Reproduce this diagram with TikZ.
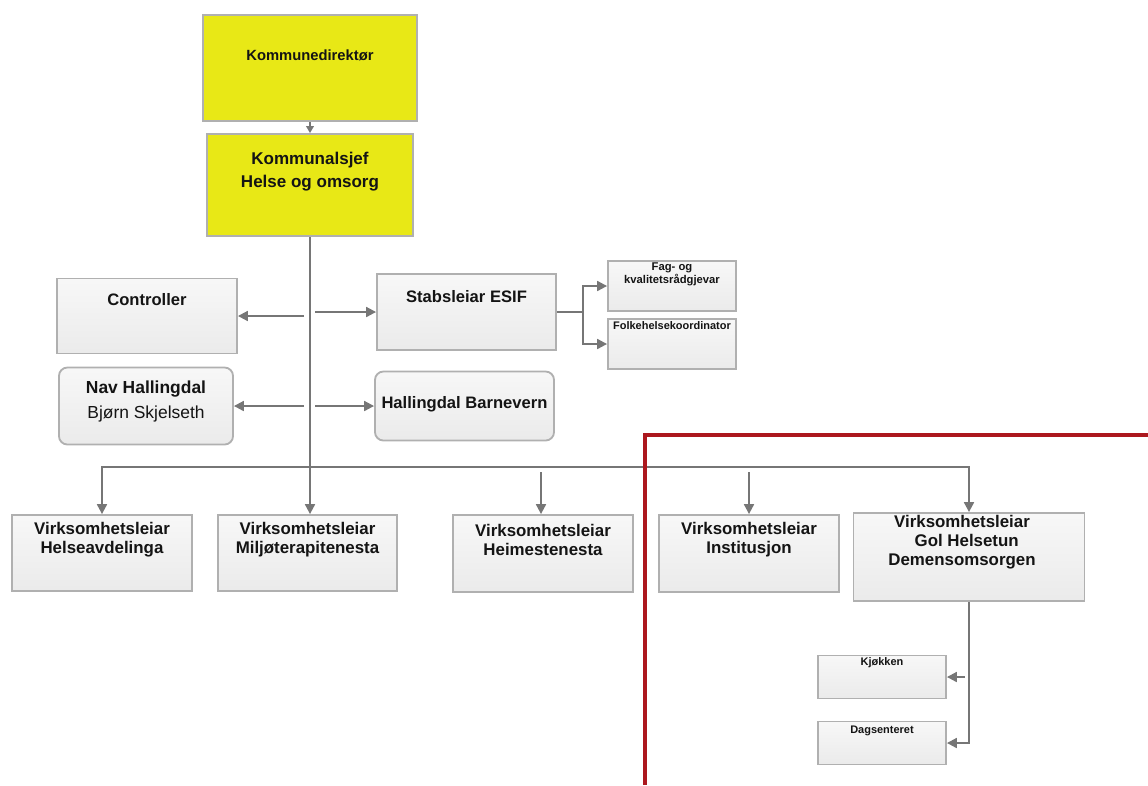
\documentclass[tikz,border=0pt]{standalone}
\usepackage{fontspec}
\setmainfont{Liberation Sans}
\usetikzlibrary{arrows.meta, positioning, calc}
\definecolor{boxline}{RGB}{176,176,176}
\definecolor{linegray}{RGB}{118,118,118}
\definecolor{chiefyellow}{RGB}{232,232,22}
\definecolor{framered}{RGB}{172,24,30}
\tikzset{
  unit/.style={
    rectangle, draw=boxline, line width=1.3pt,
    top color=gray!6, bottom color=gray!16, inner sep=0pt
  },
  roundunit/.style={unit, rounded corners=6pt},
  chief/.style={
    rectangle, draw=boxline, line width=1.3pt, fill=chiefyellow, inner sep=0pt
  },
  lbl/.style={inner sep=0pt, align=center, text=black!92},
  arrow/.style={
    -{Triangle[length=7pt,width=7pt]}, line width=1.4pt, color=linegray
  },
  link/.style={line width=1.4pt, color=linegray}
}

\begin{document}
\begin{tikzpicture}[x=0.025cm, y=-0.025cm]
\useasboundingbox (0,0) rectangle (1148,785);

% leiing
\node[chief, minimum width=5.35cm, minimum height=2.65cm] (dir) at (310,68) {};
\node[lbl, font=\bfseries\fontsize{10.5}{12}\selectfont] (dir-t) at (310,55) {Kommunedirektør};
\node[chief, minimum width=5.15cm, minimum height=2.55cm] (sjef) at (310,185) {};
\node[lbl, font=\bfseries\fontsize{12.1}{16.4}\selectfont] (sjef-t) at (310,172) {Kommunalsjef\\Helse og omsorg};

% stab
\node[unit, minimum width=4.5cm, minimum height=1.875cm] (ctrl) at (147,316) {};
\node[lbl, font=\bfseries\fontsize{11.8}{13}\selectfont] (ctrl-t) at (147,300) {Controller};
\node[unit, minimum width=4.475cm, minimum height=1.9cm] (esif) at (466.5,312) {};
\node[lbl, font=\bfseries\fontsize{11.8}{13}\selectfont] (esif-t) at (466.5,297) {Stabsleiar ESIF};
\node[unit, minimum width=3.2cm, minimum height=1.25cm] (fag) at (672,286) {};
\node[lbl, font=\bfseries\fontsize{8}{9.2}\selectfont] (fag-t) at (672,274) {Fag- og\\kvalitetsrådgjevar};
\node[unit, minimum width=3.2cm, minimum height=1.25cm] (folk) at (672,344) {};
\node[lbl, font=\bfseries\fontsize{7.8}{9}\selectfont] (folk-t) at (672,326) {Folkehelsekoordinator};
\node[roundunit, minimum width=4.35cm, minimum height=1.925cm] (nav) at (146,406) {};
\node[lbl, font=\fontsize{12.4}{17.8}\selectfont] (nav-t) at (146,401) {\textbf{Nav Hallingdal}\\Bjørn Skjelseth};
\node[roundunit, minimum width=4.475cm, minimum height=1.725cm] (barn) at (464.5,406) {};
\node[lbl, font=\bfseries\fontsize{11.8}{13}\selectfont] (barn-t) at (464.5,404) {Hallingdal Barnevern};

% verksemder
\node[unit, minimum width=4.5cm, minimum height=1.9cm] (helse) at (102,553) {};
\node[lbl, font=\bfseries\fontsize{12}{13.5}\selectfont] (helse-t) at (102,540) {Virksomhetsleiar\\Helseavdelinga};
\node[unit, minimum width=4.475cm, minimum height=1.9cm] (milj) at (307.5,553) {};
\node[lbl, font=\bfseries\fontsize{12}{13.5}\selectfont] (milj-t) at (307.5,540) {Virksomhetsleiar\\Miljøterapitenesta};
\node[unit, minimum width=4.5cm, minimum height=1.925cm] (heim) at (543,553.5) {};
\node[lbl, font=\bfseries\fontsize{12}{13.5}\selectfont] (heim-t) at (543,540) {Virksomhetsleiar\\Heimestenesta};
\node[unit, minimum width=4.5cm, minimum height=1.925cm] (inst) at (749,553.5) {};
\node[lbl, font=\bfseries\fontsize{12}{13.5}\selectfont] (inst-t) at (749,540) {Virksomhetsleiar\\Institusjon};
\node[unit, minimum width=5.775cm, minimum height=2.2cm] (gol) at (969,557) {};
\node[lbl, font=\bfseries\fontsize{12}{13.3}\selectfont] (gol-t) at (962,542) {Virksomhetsleiar\\\ \ Gol Helsetun\\Demensomsorgen};
\node[unit, minimum width=3.2cm, minimum height=1.075cm] (kjok) at (882,677) {};
\node[lbl, font=\bfseries\fontsize{7.8}{9}\selectfont] (kjok-t) at (882,663) {Kjøkken};
\node[unit, minimum width=3.2cm, minimum height=1.075cm] (dag) at (882,743) {};
\node[lbl, font=\bfseries\fontsize{7.8}{9}\selectfont] (dag-t) at (882,731) {Dagsenteret};

% koplingspunkt
\coordinate (bus) at (310,467);
\coordinate (c-ctrl) at (304,316);
\coordinate (c-esif) at (315,312);
\coordinate (c-nav) at (304,406);
\coordinate (c-barn) at (315,406);
\coordinate (c-heim) at (541,472);
\coordinate (c-inst) at (749,472);
\coordinate (c-kjok) at (965,677);

% linjer
\draw[-{Triangle[length=5pt,width=5.5pt]}, line width=1pt, color=linegray] (dir.south) -- (sjef.north);
\draw[arrow] (sjef.south) -- (sjef.south |- milj.north);
\draw[arrow] (c-ctrl) -- (ctrl.east);
\draw[arrow] (c-esif) -- (esif.west);
\draw[arrow] (c-nav) -- (nav.east);
\draw[arrow] (c-barn) -- (barn.west);
\draw[link] (esif.east) -- ++(26,0) coordinate (e1);
\draw[arrow] (e1) |- (fag.west);
\draw[arrow] (e1) |- (folk.west);
\draw[arrow] (bus) -| (helse.north);
\draw[arrow] (bus) -| (gol.north);
\draw[arrow] (c-heim) -- (c-heim |- heim.north);
\draw[arrow] (c-inst) -- (c-inst |- inst.north);
\draw[arrow] (gol.south) |- (dag.east);
\draw[arrow] (c-kjok) -- (kjok.east);

% ramme
\draw[framered, line width=2.4pt] (645,785) -- (645,435) -- (1148,435);
\end{tikzpicture}
\end{document}
